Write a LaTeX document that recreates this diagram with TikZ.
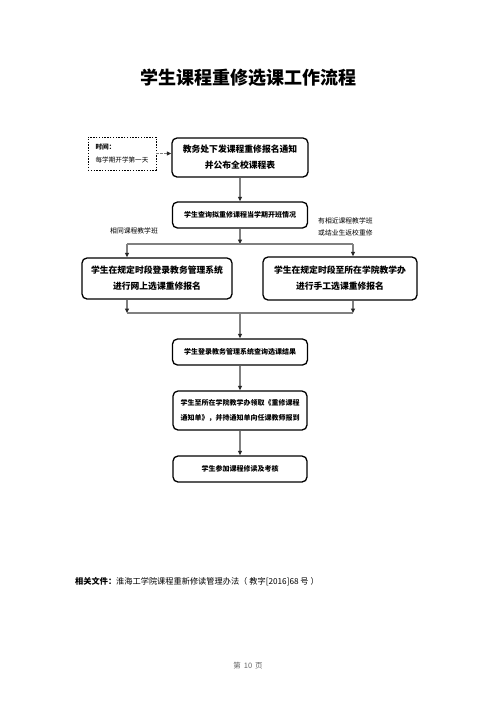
\documentclass[tikz,border=0pt]{standalone}
\usepackage{fontspec}
\setmainfont{Noto Sans CJK SC}
\usetikzlibrary{arrows.meta}
\begin{document}
\begin{tikzpicture}[x=1pt,y=-1pt,
  box/.style={draw=black, line width=1.3pt, rounded corners=5pt, align=center, inner sep=0pt},
  big/.style={font=\fontsize{8.8}{16}\selectfont\bfseries},
  small/.style={font=\fontsize{7}{15}\selectfont\bfseries},
  line/.style={draw=black!50, line width=1.1pt},
  conn/.style={line, -{Triangle[length=4.5pt,width=4pt,color=black!85]}},
  lab/.style={font=\fontsize{6.8}{12}\selectfont, align=left, inner sep=0pt}]
\useasboundingbox[fill=white] (0,0) rectangle (496,702);

\node[font=\fontsize{18}{20}\selectfont\bfseries] (title) at (248,78) {学生课程重修选课工作流程};

\node[draw=black, line width=0.9pt, dash pattern=on 1.4pt off 1.4pt, minimum width=68pt, minimum height=33pt, inner sep=0pt, align=left, font=\fontsize{6.6}{13}\selectfont] (time) at (122,153.5) {{\bfseries 时间：}\\每学期开学第一天};

\node[box, big, minimum width=136pt, minimum height=39pt] (b1) at (240,157.5) {教务处下发课程重修报名通知\\并公布全校课程表};
\node[box, small, minimum width=135pt, minimum height=26pt] (b2) at (240,215) {学生查询拟重修课程当学期开班情况};
\node[box, big, minimum width=150pt, minimum height=41pt] (b3) at (157,278.5) {学生在规定时段登录教务管理系统\\进行网上选课重修报名};
\node[box, big, minimum width=154pt, minimum height=43pt] (b4) at (340,278.5) {学生在规定时段至所在学院教学办\\进行手工选课重修报名};
\node[box, small, minimum width=135pt, minimum height=26pt] (b5) at (240,352) {学生登录教务管理系统查询选课结果};
\node[box, small, minimum width=134pt, minimum height=39pt] (b6) at (240,410.5) {学生至所在学院教学办领取《重修课程\\通知单》，并持通知单向任课教师报到};
\node[box, small, minimum width=134pt, minimum height=26pt] (b7) at (240,469) {学生参加课程修读及考核};

\node[lab] (ll) at (134,231) {相同课程教学班};
\node[lab, anchor=west] (rl) at (318,227) {有相近课程教学班\\或结业生返校重修};

\coordinate (s1) at (240,244);
\coordinate (l1) at (127,244);
\coordinate (r1) at (353,244);
\coordinate (s2) at (240,313);
\coordinate (l2) at (127,313);
\coordinate (r2) at (353,313);

\draw[conn, dashed, dash pattern=on 2.5pt off 1.5pt] (time.east) -- (time.east -| b1.west);
\draw[conn] (b1.south) -- (b2.north);
\draw[conn] (b2.south) -- (s1);
\draw[line] (l1) -- (r1);
\draw[conn] (l1) -- (l1 |- b3.north);
\draw[conn] (r1) -- (r1 |- b4.north);
\draw[conn] (l2 |- b3.south) -- (l2);
\draw[conn] (r2 |- b4.south) -- (r2);
\draw[line] (l2) -- (r2);
\draw[conn] (s2) -- (b5.north);
\draw[conn] (b5.south) -- (b6.north);
\draw[conn] (b6.south) -- (b7.north);

\node[anchor=west, inner sep=0pt, font=\fontsize{8.2}{10}\selectfont] (doc) at (75,582) {{\bfseries 相关文件：}淮海工学院课程重新修读管理办法（\hspace{2pt}教字[2016]68 号\hspace{2pt}）};

\node[text=black!60, font=\fontsize{7.5}{9}\selectfont] (page) at (248,666) {第\hspace{3pt}10\hspace{3pt}页};
\end{tikzpicture}
\end{document}
